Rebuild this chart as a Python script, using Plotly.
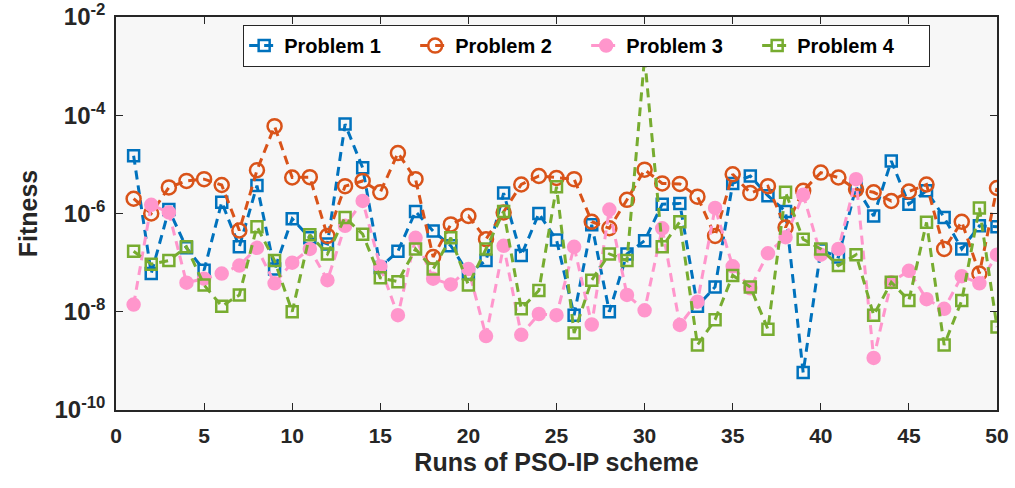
import plotly.graph_objects as go

# Fitness of 50 independent runs of the PSO-IP scheme for four test problems
runs = list(range(1, 51))

problem1 = [1.5e-5, 6e-8, 1.2e-6, 2.0e-7, 7e-8, 1.7e-6, 2.1e-7, 3.7e-6, 7.4e-8, 7.8e-7,
            3.2e-7, 2.4e-7, 6.6e-5, 8.5e-6, 8e-8, 1.7e-7, 1.1e-6, 4.4e-7, 2.2e-7, 6e-8,
            1.1e-7, 2.6e-6, 1.4e-7, 1.0e-6, 2.9e-7, 8.5e-9, 5.9e-7, 1e-8, 1.5e-7, 2.8e-7,
            1.55e-6, 1.6e-6, 1.3e-8, 3.2e-8, 4.1e-6, 5.8e-6, 2.3e-6, 1.1e-6, 5.8e-10, 1.8e-7,
            1.3e-7, 3.5e-6, 8.9e-7, 1.17e-5, 1.55e-6, 2.9e-6, 8.3e-7, 1.9e-7, 5.6e-7, 5.4e-7]

problem2 = [2.0e-6, 1.0e-6, 3.4e-6, 4.6e-6, 5e-6, 3.8e-6, 4.5e-7, 7.6e-6, 6e-5, 5.4e-6,
            5.5e-6, 3.5e-7, 3.6e-6, 4.6e-6, 2.7e-6, 1.7e-5, 5e-6, 1.3e-7, 6e-7, 8.9e-7,
            3e-7, 1.05e-6, 3.9e-6, 5.8e-6, 5.3e-6, 5e-6, 6.8e-7, 5e-7, 1.9e-6, 7.8e-6,
            4.1e-6, 4.0e-6, 2.2e-6, 3.5e-7, 6.3e-6, 2.6e-6, 3.6e-6, 5.2e-7, 2.9e-6, 6.8e-6,
            5.4e-6, 3.1e-6, 2.7e-6, 1.8e-6, 2.8e-6, 3.9e-6, 1.9e-7, 6.8e-7, 6e-8, 3.3e-6]

problem3 = [1.4e-8, 1.5e-6, 1.05e-6, 3.9e-8, 4.7e-8, 6e-8, 8.7e-8, 2.0e-7, 3.8e-8, 1.0e-7,
            1.9e-7, 4.4e-8, 5.6e-7, 1.8e-6, 8.3e-8, 8.5e-9, 3.2e-7, 4.7e-8, 3.6e-8, 7.4e-8,
            3.2e-9, 2.2e-7, 3.4e-9, 9e-9, 8.5e-9, 2.1e-7, 5.5e-9, 1.2e-6, 2.2e-8, 1.07e-8,
            5e-7, 5.4e-9, 1.6e-8, 1.3e-6, 8.4e-8, 3e-8, 1.55e-7, 3.3e-7, 2.4e-6, 1.45e-7,
            1.9e-7, 5e-6, 1.15e-9, 4e-8, 6.8e-8, 1.8e-8, 1.15e-8, 5.3e-8, 3.8e-8, 1.45e-7]

problem4 = [1.7e-7, 9.3e-8, 1.1e-7, 2.1e-7, 3.5e-8, 1.3e-8, 2.2e-8, 5.4e-7, 1.1e-7, 1.0e-8,
            3.7e-7, 1.5e-7, 8.3e-7, 3.8e-7, 4.9e-8, 4.1e-8, 1.9e-7, 7.4e-8, 3.2e-7, 3.5e-8,
            1.9e-7, 1.1e-6, 1.15e-8, 2.7e-8, 3.5e-6, 3.7e-9, 4.4e-8, 1.5e-7, 1.1e-7, 1.5e-3,
            2.1e-7, 6.8e-7, 2.1e-9, 6.9e-9, 5.5e-8, 3.2e-8, 4.4e-9, 2.7e-6, 3e-7, 1.9e-7,
            8.7e-8, 1.45e-7, 8.5e-9, 4e-8, 1.7e-8, 6.6e-7, 2.1e-9, 1.7e-8, 1.3e-6, 4.9e-9]

x_ticks = [0, 5, 10, 15, 20, 25, 30, 35, 40, 45, 50]
y_ticks = [1e-10, 1e-8, 1e-6, 1e-4, 1e-2]
y_tick_text = ["10<sup>-10</sup>", "10<sup>-8</sup>", "10<sup>-6</sup>",
               "10<sup>-4</sup>", "10<sup>-2</sup>"]

FONT = "Liberation Sans, Arial, sans-serif"
INK = "#262626"
DASH = "9px,6px"

series = [
    ("Problem 1", problem1, "#0072BD", dict(symbol="square-open", size=11)),
    ("Problem 2", problem2, "#D95319", dict(symbol="circle-open", size=14)),
    ("Problem 3", problem3, "#FF96CC", dict(symbol="circle", size=12)),
    ("Problem 4", problem4, "#77AC30", dict(symbol="square-open", size=11)),
]

fig = go.Figure()
for name, values, color, marker in series:
    fig.add_trace(go.Scatter(
        x=runs, y=values, name=name, mode="lines+markers",
        line=dict(color=color, width=3, dash=DASH),
        marker=dict(color=color, line=dict(color=color, width=2.5), **marker),
    ))

axis_common = dict(
    showline=True, linecolor=INK, linewidth=1.5, mirror="ticks",
    ticks="inside", ticklen=7, tickwidth=1.2, tickcolor=INK,
    showgrid=False, zeroline=False,
    title_font=dict(family=FONT, size=25, color=INK, weight="bold"),
)

fig.update_xaxes(range=[0, 50], tickvals=x_ticks, automargin=False,
                 tickfont=dict(family=FONT, size=21, color=INK, weight="bold"),
                 ticklabelstandoff=6,
                 title_text="Runs of PSO-IP scheme", title_standoff=8,
                 **axis_common)
fig.update_yaxes(type="log", range=[-10, -2], tickvals=y_ticks, ticktext=y_tick_text,
                 automargin=False,
                 tickfont=dict(family=FONT, size=24, color=INK, weight="bold"),
                 ticklabelstandoff=4,
                 title_text="Fitness", title_standoff=10, **axis_common)

fig.update_layout(
    width=1015, height=488,
    margin=dict(l=116, r=18, t=17, b=78),
    paper_bgcolor="white", plot_bgcolor="#F7F7F7",
    legend=dict(
        orientation="h", x=0.534, y=0.98, xanchor="center", yanchor="top",
        bgcolor="white", bordercolor=INK, borderwidth=1.2,
        font=dict(family=FONT, size=20, color="black", weight="bold"),
        itemwidth=30, entrywidth=126, entrywidthmode="pixels",
    ),
    showlegend=True,
)

fig.write_html("out.html")
